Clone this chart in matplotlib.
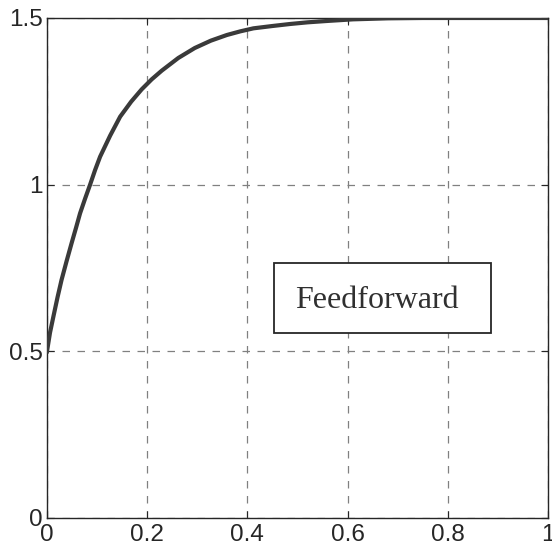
import numpy as np
import matplotlib
matplotlib.use('Agg')
import matplotlib.pyplot as plt
from matplotlib.patches import Rectangle

# curve
t = [0.0, 0.006, 0.013, 0.021, 0.029, 0.039, 0.049, 0.058, 0.066, 0.076, 0.086,
     0.096, 0.106, 0.126, 0.146, 0.168, 0.189, 0.209, 0.229, 0.262, 0.295,
     0.327, 0.359, 0.386, 0.412, 0.45, 0.485, 0.52, 0.558, 0.611, 0.68, 0.75,
     0.85, 1.0]
y = [0.5, 0.556, 0.606, 0.662, 0.714, 0.77, 0.824, 0.871, 0.914, 0.958, 1.0,
     1.044, 1.084, 1.147, 1.204, 1.249, 1.286, 1.316, 1.342, 1.38, 1.41,
     1.432, 1.449, 1.46, 1.469, 1.476, 1.482, 1.487, 1.491, 1.496, 1.499, 1.5,
     1.5, 1.5]

xticks = [0, 0.2, 0.4, 0.6, 0.8, 1]
xtick_labels = ['0', '0.2', '0.4', '0.6', '0.8', '1']
yticks = [0, 0.5, 1, 1.5]
ytick_labels = ['0', '0.5', '1', '1.5']
label = 'Feedforward'

plt.rcParams['font.family'] = ['Liberation Sans', 'DejaVu Sans']

fig = plt.figure(figsize=(5.52, 5.52), dpi=100)
ax = fig.add_axes([47 / 552, 34 / 552, 501 / 552, 500 / 552])

ax.plot(t, y, color='#3a3a3a', linewidth=3.0, solid_joinstyle='round', zorder=3)

ax.set_xlim(0, 1)
ax.set_ylim(0, 1.5)
ax.set_xticks(xticks)
ax.set_xticklabels(xtick_labels)
ax.set_yticks(yticks)
ax.set_yticklabels(ytick_labels)
ax.tick_params(direction='in', length=5, width=0.8, top=True, right=True,
               labelsize=17.5, colors='#262626')
ax.tick_params(axis='x', pad=4)
ax.tick_params(axis='y', pad=3)
ax.grid(True, linestyle=(0, (6, 6)), color='#808080', linewidth=0.9)
for s in ax.spines.values():
    s.set_color('#262626')
    s.set_linewidth(1.0)

# label box
ax.add_patch(Rectangle((0.454, 0.556), 0.432, 0.208, facecolor='white',
                       edgecolor='#262626', linewidth=1.3, zorder=4))
ax.text(0.495, 0.629, label, family=['Liberation Serif', 'DejaVu Serif'],
        fontsize=23, color='#303030', va='baseline', ha='left', zorder=5)

fig.savefig('out.png', dpi=100)
